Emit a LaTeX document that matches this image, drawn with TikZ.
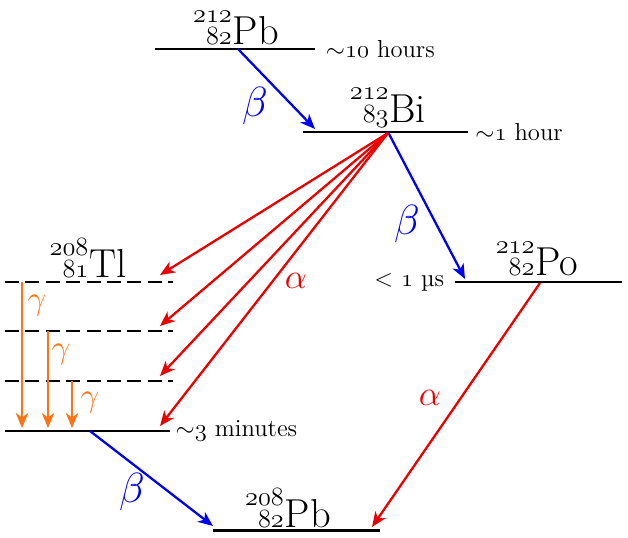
\RequirePackage{fix-cm}
\documentclass[tikz,border=0pt]{standalone}
\usepackage{fontspec}
\usetikzlibrary{arrows.meta}
\definecolor{Calpha}{RGB}{235,0,0}
\definecolor{Cbeta}{RGB}{0,0,240}
\definecolor{Cgamma}{RGB}{255,115,20}
\newcommand{\osf}[1]{$\mathnormal{#1}$}
\newcommand{\iso}[3]{{\fontsize{15}{17}\selectfont\shortstack[r]{\osf{#1}\\\osf{#2}}}\kern0.5pt#3}
\tikzset{
  level/.style={line width=1.7pt, black},
  exlevel/.style={level, dash pattern=on 8pt off 3.6pt},
  decay/.style={-{Stealth[length=8.5pt, width=7pt, inset=2.5pt]}, line width=1.3pt},
  adecay/.style={decay, Calpha},
  bdecay/.style={decay, Cbeta},
  gdecay/.style={decay, Cgamma},
  isolabel/.style={font=\fontsize{23}{26}\selectfont, inner sep=0pt},
  life/.style={font=\fontsize{14}{16}\selectfont, inner sep=0pt},
  blbl/.style={text=Cbeta, font=\fontsize{24}{28}\selectfont, inner sep=0pt},
  albl/.style={text=Calpha, font=\fontsize{20}{24}\selectfont, inner sep=0pt},
  glbl/.style={text=Cgamma, font=\fontsize{19}{23}\selectfont, inner sep=0pt},
}
\begin{document}
\begin{tikzpicture}[x=0.02cm, y=-0.02cm]
\useasboundingbox (0,0) rectangle (628,537);

%%==========================================================================
%% LEVELS
%%==========================================================================
\coordinate (pb212-l) at (155,49);  \coordinate (pb212-r) at (315,49);
\coordinate (bi212-l) at (303,132); \coordinate (bi212-r) at (468,132);
\coordinate (po212-l) at (455,282); \coordinate (po212-r) at (622,282);
\coordinate (tl3-l)   at (5,282);   \coordinate (tl3-r)   at (173,282);
\coordinate (tl2-l)   at (5,331);   \coordinate (tl2-r)   at (173,331);
\coordinate (tl1-l)   at (5,381);   \coordinate (tl1-r)   at (173,381);
\coordinate (tl0-l)   at (5,431);   \coordinate (tl0-r)   at (170,431);
\coordinate (pb208-l) at (213,530); \coordinate (pb208-r) at (380,530);

\draw[level]   (pb212-l) -- (pb212-r);
\draw[level]   (bi212-l) -- (bi212-r);
\draw[level]   (po212-l) -- (po212-r);
\draw[exlevel] (tl3-l) -- (tl3-r);
\draw[exlevel] (tl2-l) -- (tl2-r);
\draw[exlevel] (tl1-l) -- (tl1-r);
\draw[level]   (tl0-l) -- (tl0-r);
\draw[level]   (pb208-l) -- (pb208-r);

%% Nuclide names
\node[isolabel] (n-pb212) at (236,28)  {\iso{212}{82}{Pb}};
\node[isolabel] (n-bi212) at (388,108) {\iso{212}{83}{Bi}};
\node[isolabel] (n-po212) at (537,259) {\iso{212}{82}{Po}};
\node[isolabel] (n-tl208) at (88,258)  {\iso{208}{81}{Tl}};
\node[isolabel] (n-pb208) at (288,508) {\iso{208}{82}{Pb}};

%% Half-lives
\node[life, anchor=west] (t-pb212) at ([xshift=6pt]pb212-r) {${\sim}$\osf{10} hours};
\node[life, anchor=west] (t-bi212) at ([xshift=4pt]bi212-r) {${\sim}$\osf{1} hour};
\node[life, anchor=east] (t-po212) at ([xshift=-6pt]po212-l) {$<$ \osf{1} µs};
\node[life, anchor=west] (t-tl208) at ([xshift=3pt]tl0-r) {${\sim}$\osf{3} minutes};

%%==========================================================================
%% DECAYS
%%==========================================================================
%% beta branches
\coordinate (b1-s) at (238,49);  \coordinate (b1-e) at (315,129);
\coordinate (b2-s) at (388,132); \coordinate (b2-e) at (465,279);
\coordinate (b3-s) at (90,431);  \coordinate (b3-e) at (213,526);
\draw[bdecay] (b1-s) -- (b1-e);
\draw[bdecay] (b2-s) -- (b2-e);
\draw[bdecay] (b3-s) -- (b3-e);
\node[blbl] (l-b1) at (255,106) {$\beta$};
\node[blbl] (l-b2) at (407,224) {$\beta$};
\node[blbl] (l-b3) at (132,492) {$\beta$};

%% alpha branches Bi -> Tl levels
\coordinate (a-s) at (388,133);
\foreach \y in {275,326,376,426}
  \draw[adecay] (a-s) -- (160,\y);
\node[albl] (l-a1) at (296,281) {$\alpha$};

%% alpha Po -> Pb
\coordinate (a2-s) at (540,283); \coordinate (a2-e) at (372,527);
\draw[adecay] (a2-s) -- (a2-e);
\node[albl] (l-a2) at (430,398) {$\alpha$};

%% gamma cascade in Tl
\coordinate (g1-s) at (22,282); \coordinate (g1-e) at (22,428);
\coordinate (g2-s) at (48,331); \coordinate (g2-e) at (48,428);
\coordinate (g3-s) at (72,381); \coordinate (g3-e) at (72,428);
\draw[gdecay] (g1-s) -- (g1-e);
\draw[gdecay] (g2-s) -- (g2-e);
\draw[gdecay] (g3-s) -- (g3-e);
\node[glbl] (l-g1) at (37,306) {$\gamma$};
\node[glbl] (l-g2) at (61,355) {$\gamma$};
\node[glbl] (l-g3) at (90,403) {$\gamma$};

\end{tikzpicture}
\end{document}
